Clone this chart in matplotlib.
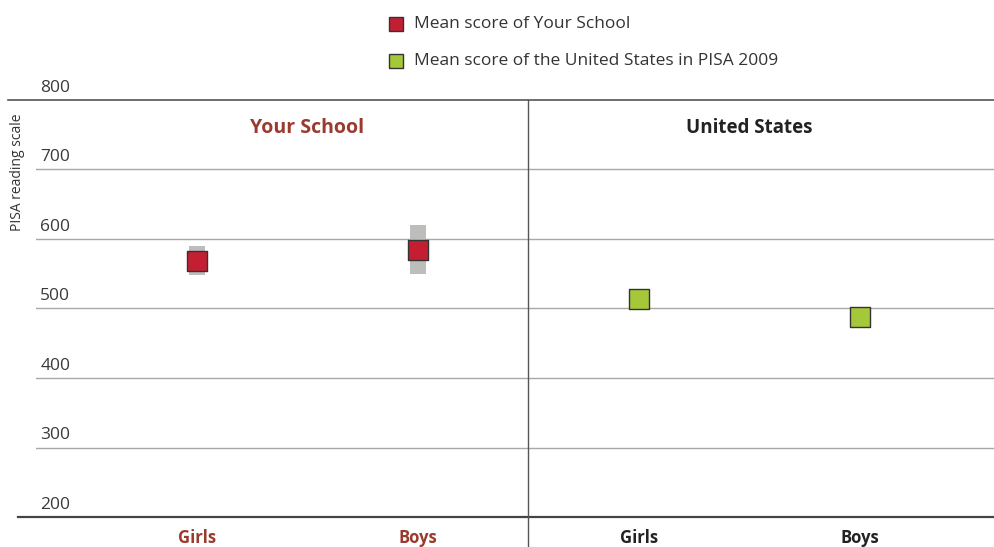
import matplotlib
matplotlib.use("Agg")
import matplotlib.pyplot as plt

plt.rcParams['font.family'] = ['Open Sans', 'DejaVu Sans']

# Data
panels = ["Your School", "United States"]
categories = ["Girls", "Boys", "Girls", "Boys"]
school_mean = [568, 584]
school_low = [548, 549]
school_high = [590, 620]
us_mean = [513, 488]
y_ticks = [200, 300, 400, 500, 600, 700, 800]
legend_labels = ["Mean score of Your School", "Mean score of the United States in PISA 2009"]

RED = "#C41E32"
GREEN = "#A5C83A"
BROWN = "#9B3A2E"
GRID = "#A8A8A4"

fig = plt.figure(figsize=(9.95, 5.47), dpi=100)
W, H = 995, 547
ax = fig.add_axes([36 / W, 30 / H, (995 - 36) / W, (517 - 100) / H])
ax.set_xlim(-0.7285, 3.611)
ax.set_ylim(200, 800)
for s in ax.spines.values():
    s.set_visible(False)
ax.set_xticks([])
ax.set_yticks([])

# gridlines
for t in y_ticks:
    if t == 800:
        ax.axhline(t, xmin=(8 - 36) / 959, xmax=1, color="#555555", lw=1.2, clip_on=False, zorder=1)
    elif t == 200:
        ax.axhline(t, xmin=(18 - 36) / 959, xmax=1, color="#444444", lw=1.6, clip_on=False, zorder=1)
    else:
        ax.axhline(t, color=GRID, lw=1.0, zorder=1)
    ax.annotate(str(t), xy=(0, t), xycoords=("axes fraction", "data"),
                xytext=(3, 3), textcoords="offset points", ha="left", va="bottom",
                fontsize=12.5, color="#3a3a3a")

# divider
ax.axvline(1.5, ymin=-30 / 417, ymax=1, color="#555555", lw=1.0, clip_on=False, zorder=1)

# school CI bars and means
xs_school = [0, 1]
xs_us = [2, 3]
for x, lo, hi in zip(xs_school, school_low, school_high):
    ax.bar(x, hi - lo, bottom=lo, width=0.072, color="#BDBDBB", zorder=2)
ax.scatter(xs_school, school_mean, marker="s", s=190, color=RED, edgecolors="#333333",
           linewidths=1.0, zorder=3)
ax.scatter(xs_us, us_mean, marker="s", s=190, color=GREEN, edgecolors="#333333",
           linewidths=1.0, zorder=3)

# panel titles
ax.text(0.5, 760, panels[0], ha="center", va="center", fontsize=14, fontweight="bold", color=BROWN)
ax.text(2.5, 760, panels[1], ha="center", va="center", fontsize=13.5, fontweight="bold", color="#222222")

# category labels
for i, c in enumerate(categories):
    ax.annotate(c, xy=(i, 200), xycoords="data", xytext=(0, -15), textcoords="offset points",
                ha="center", va="center", fontsize=12, fontweight="bold",
                color=BROWN if i < 2 else "#222222")

# y label
fig.text(18 / W, 1 - 172 / H, "PISA reading scale", rotation=90, ha="center", va="center",
         fontsize=10, color="#333333")

# legend
for i, (lab, col) in enumerate(zip(legend_labels, [RED, GREEN])):
    yc = 24 + i * 37
    fig.patches.append(plt.Rectangle((389 / W, 1 - (yc + 7) / H), 14 / W, 14 / H,
                                     transform=fig.transFigure, facecolor=col,
                                     edgecolor="#333333", lw=1.0))
    fig.text(414 / W, 1 - yc / H, lab, ha="left", va="center", fontsize=12.5, color="#333333")

fig.savefig("out.png", dpi=100)
